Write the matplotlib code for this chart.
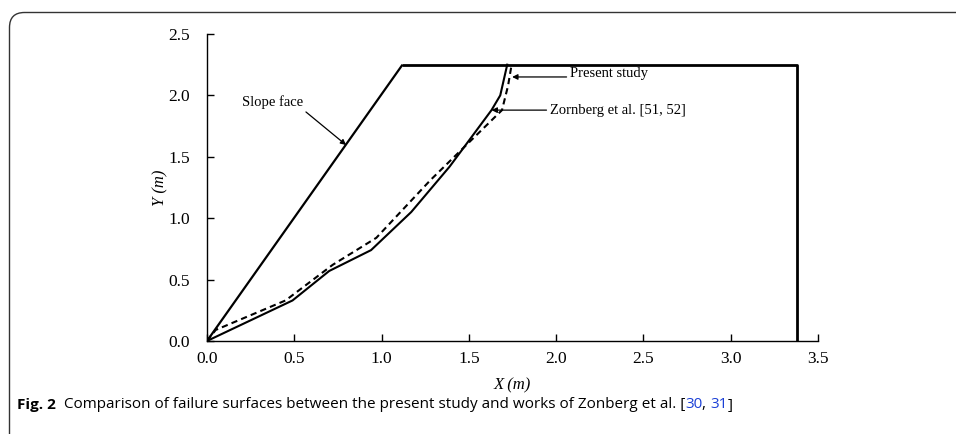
import matplotlib
matplotlib.use("Agg")
import matplotlib.pyplot as plt
from matplotlib.patches import FancyBboxPatch
from matplotlib.transforms import IdentityTransform

# Failure surfaces (x, y in metres)
present_x = [0.0, 0.49, 0.70, 0.94, 1.17, 1.39, 1.63, 1.68, 1.72]
present_y = [0.0, 0.33, 0.57, 0.74, 1.05, 1.42, 1.88, 2.00, 2.25]
zorn_x = [0.0, 0.05, 0.45, 0.72, 0.97, 1.28, 1.69, 1.725, 1.745]
zorn_y = [0.0, 0.09, 0.33, 0.62, 0.84, 1.31, 1.88, 2.08, 2.25]

# Slope geometry: face from toe to crest, crest line, back boundary
slope_x = [0.0, 1.12, 3.38, 3.38]
slope_y = [0.0, 2.25, 2.25, 0.0]

x_ticks = [0.0, 0.5, 1.0, 1.5, 2.0, 2.5, 3.0, 3.5]
y_ticks = [0.0, 0.5, 1.0, 1.5, 2.0, 2.5]

serif = "Liberation Serif"
caption_font = "Open Sans"

fig = plt.figure(figsize=(9.56, 4.34), dpi=100)
ax = fig.add_axes([0.2165, 0.2143, 0.6391, 0.7074])

ax.plot(slope_x[:2], slope_y[:2], color="black", lw=1.6, solid_capstyle="butt")
ax.plot(slope_x[1:], slope_y[1:], color="black", lw=2.0, solid_capstyle="butt")
ax.plot(present_x, present_y, color="black", lw=1.5)
ax.plot(zorn_x, zorn_y, color="black", lw=1.5, linestyle=(0, (3, 2)))

ax.set_xlim(0, 3.5)
ax.set_ylim(0, 2.5)
ax.set_xticks(x_ticks)
ax.set_yticks(y_ticks)
ax.set_xticklabels([f"{v:.1f}" for v in x_ticks], fontfamily=serif, fontsize=12.5)
ax.set_yticklabels([f"{v:.1f}" for v in y_ticks], fontfamily=serif, fontsize=12.5)
ax.tick_params(axis="x", direction="in", length=5, width=1, pad=7)
ax.tick_params(axis="y", direction="in", length=5, width=1, pad=12)
for s in ["top", "right"]:
    ax.spines[s].set_visible(False)
for s in ["left", "bottom"]:
    ax.spines[s].set_linewidth(1.0)

ax.set_xlabel("X (m)", fontfamily=serif, fontstyle="italic", fontsize=12, labelpad=8)
ax.set_ylabel("Y (m)", fontfamily=serif, fontstyle="italic", fontsize=12, labelpad=0)

arrow = dict(arrowstyle="-|>", color="black", lw=0.9, mutation_scale=8,
             shrinkA=0, shrinkB=0)
ax.annotate("", xy=(1.748, 2.15), xytext=(2.06, 2.15), arrowprops=arrow)
ax.text(2.08, 2.18, "Present study", fontfamily=serif, fontsize=10.5,
        va="center", ha="left")
ax.annotate("", xy=(1.63, 1.88), xytext=(1.945, 1.88), arrowprops=arrow)
ax.text(1.965, 1.88, "Zornberg et al. [51, 52]", fontfamily=serif, fontsize=10.5,
        va="center", ha="left")
ax.annotate("", xy=(0.797, 1.596), xytext=(0.567, 1.865), arrowprops=arrow)
ax.text(0.2, 1.946, "Slope face", fontfamily=serif, fontsize=10.5,
        va="center", ha="left")

# Caption frame (rounded corner, open to the right and bottom), in pixels
W, H = 956, 434
frame = FancyBboxPatch((9.5, -60), 1100, (H - 12.5) + 60,
                       boxstyle="round,pad=0,rounding_size=15",
                       transform=IdentityTransform(), fill=False,
                       edgecolor="#333333", lw=1.0, clip_on=False)
fig.patches.append(frame)

# Caption text, laid out piece by piece
pieces = [("Fig. 2", "bold", "black"),
          ("  Comparison of failure surfaces between the present study and works of Zonberg et al. [", "normal", "black"),
          ("30", "normal", "#1a3fd6"),
          (", ", "normal", "black"),
          ("31", "normal", "#1a3fd6"),
          ("]", "normal", "black")]
fig.canvas.draw()
renderer = fig.canvas.get_renderer()
xpos = 17 / W
for txt, weight, col in pieces:
    t = fig.text(xpos, 1 - 405 / H, txt, fontfamily=caption_font, fontsize=11,
                 fontweight=weight, color=col, va="center", ha="left")
    bb = t.get_window_extent(renderer)
    xpos += bb.width / W

fig.savefig("out.png", dpi=100)
